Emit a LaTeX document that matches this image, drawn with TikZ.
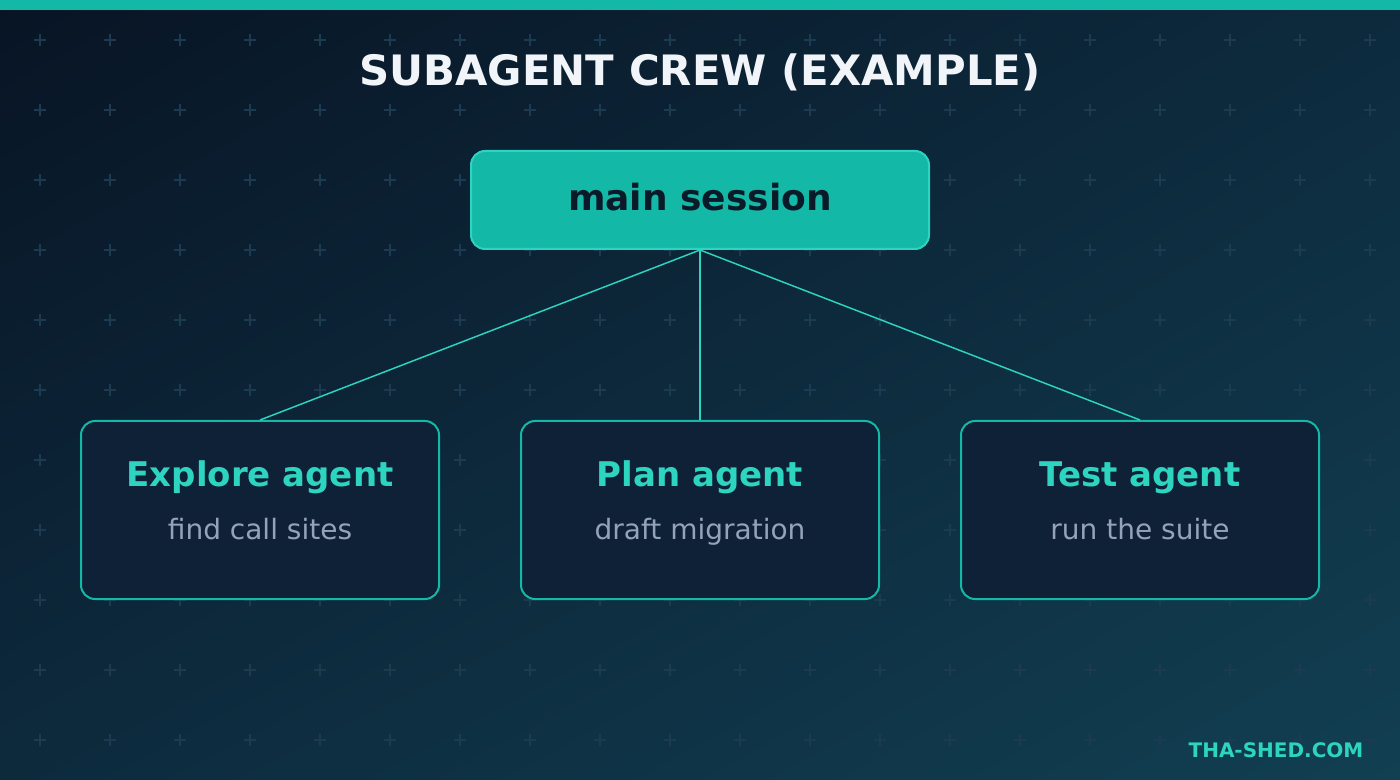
\documentclass[tikz,border=0pt]{standalone}
\usepackage{fontspec}
\setmainfont{DejaVu Sans}
\usetikzlibrary{shadings}
\definecolor{bgdark}{HTML}{081424}
\definecolor{bgmid}{HTML}{0D2A3D}
\definecolor{bglight}{HTML}{123F52}
\definecolor{teal}{HTML}{14B8A6}
\definecolor{tealhi}{HTML}{2DD4BF}
\definecolor{boxfill}{HTML}{0F2137}
\definecolor{darktext}{HTML}{0A1A28}
\definecolor{subtext}{HTML}{94A3B8}
\definecolor{gridmark}{HTML}{1C3A50}
\definecolor{titletext}{HTML}{F1F5F9}
\tikzset{every picture/.style={line width=0.75pt},
  agent/.style={draw=teal,fill=boxfill,rounded corners=10.5pt,line width=1.5pt,minimum width=268.5pt,minimum height=133.5pt},
  agenttitle/.style={anchor=base,text=tealhi,font=\bfseries\fontsize{25.5}{30}\selectfont},
  agentsub/.style={anchor=base,text=subtext,font=\fontsize{21}{25}\selectfont},
  link/.style={draw=tealhi,line width=1.1pt}}
\begin{document}
\begin{tikzpicture}[x=0.75pt,y=0.75pt,yscale=-1,xscale=1]
%background with diagonal gradient
\shade [upper left=bgdark,upper right=bgmid,lower left=bgmid,lower right=bglight] (0,0) rectangle (1400,780);
\useasboundingbox (0,0) rectangle (1400,780);
%top bar
\fill [teal] (0,0) rectangle (1400,10);
%grid of crosses
\foreach \i in {0,...,19} {
  \foreach \j in {0,...,10} {
    \draw [gridmark,line width=1.1pt] (40+70*\i-6,40+70*\j) -- (40+70*\i+6,40+70*\j) (40+70*\i,40+70*\j-6) -- (40+70*\i,40+70*\j+6);
  }
}

% Title
\node (title) at (700,86) [anchor=base,text=titletext,font=\bfseries\fontsize{31.4}{37}\selectfont] {SUBAGENT CREW (EXAMPLE)};

% main box
\node (main) at (700,200) [draw=tealhi,fill=teal,rounded corners=10.5pt,line width=1.5pt,minimum width=343.5pt,minimum height=73.5pt] {};
\node (mainT) at (700,211) [anchor=base,font=\bfseries\fontsize{27}{32}\selectfont,text=darktext] {main session};

% agent boxes
\node (explore) at (260,510) [agent] {};
\node (plan) at (700,510) [agent] {};
\node (test) at (1140,510) [agent] {};

\node (exploreT) at (260,487) [agenttitle] {Explore agent};
\node (exploreS) at (260,540) [agentsub] {find call sites};
\node (planT) at (700,487) [agenttitle] {Plan agent};
\node (planS) at (700,540) [agentsub] {draft migration};
\node (testT) at (1140,487) [agenttitle] {Test agent};
\node (testS) at (1140,540) [agentsub] {run the suite};

% connectors
\draw [link] (main.south) -- (explore.north);
\draw [link] (main.south) -- (plan.north);
\draw [link] (main.south) -- (test.north);

% watermark
\node (mark) at (1276,757) [anchor=base,text=tealhi,font=\bfseries\fontsize{15}{18}\selectfont] {THA-SHED.COM};

\end{tikzpicture}
\end{document}
